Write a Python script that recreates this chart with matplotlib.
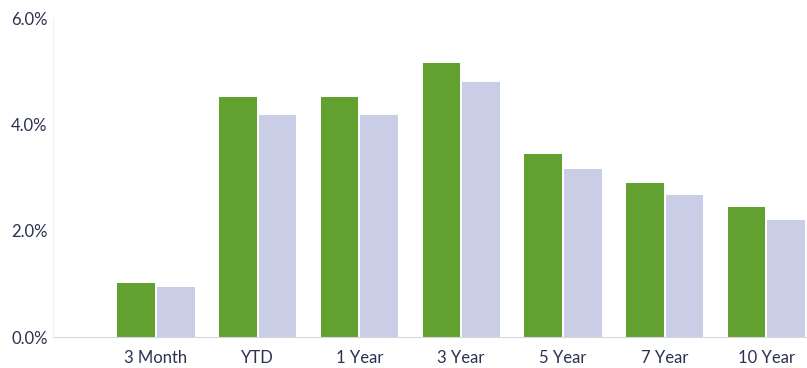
import numpy as np
import matplotlib.pyplot as plt

categories = ['3 Month', 'YTD', '1 Year', '3 Year', '5 Year', '7 Year', '10 Year']
fund = [1.02, 4.52, 4.52, 5.16, 3.45, 2.89, 2.45]
benchmark = [0.94, 4.18, 4.18, 4.79, 3.16, 2.67, 2.20]

green = '#62a030'
lavender = '#c9cde6'
text_col = '#2c3150'

plt.rcParams['font.family'] = ['Lato', 'DejaVu Sans']

fig = plt.figure(figsize=(8.07, 3.68), dpi=100)
ax = fig.add_axes([0.066, 0.084, 0.934, 0.867])

x = np.arange(len(categories))
w = 0.37
ax.bar(x - w / 2 - 0.01, fund, width=w, color=green)
ax.bar(x + w / 2 + 0.01, benchmark, width=w, color=lavender)

ax.set_xlim(-1.01, 6.4)
ax.set_ylim(0, 6)
ax.set_yticks([0, 2, 4, 6])
ax.set_yticklabels(['0.0%', '2.0%', '4.0%', '6.0%'])
ax.set_xticks(x)
ax.set_xticklabels(categories)
ax.tick_params(axis='both', length=0, labelsize=12, colors=text_col)
ax.tick_params(axis='x', pad=9)
ax.tick_params(axis='y', pad=4)

for s in ['top', 'right']:
    ax.spines[s].set_visible(False)
ax.spines['left'].set_color('#f0f0f2')
ax.spines['bottom'].set_color('#d8d8dc')
ax.spines['left'].set_linewidth(0.8)
ax.spines['bottom'].set_linewidth(0.8)

fig.savefig('out.png', dpi=100)
